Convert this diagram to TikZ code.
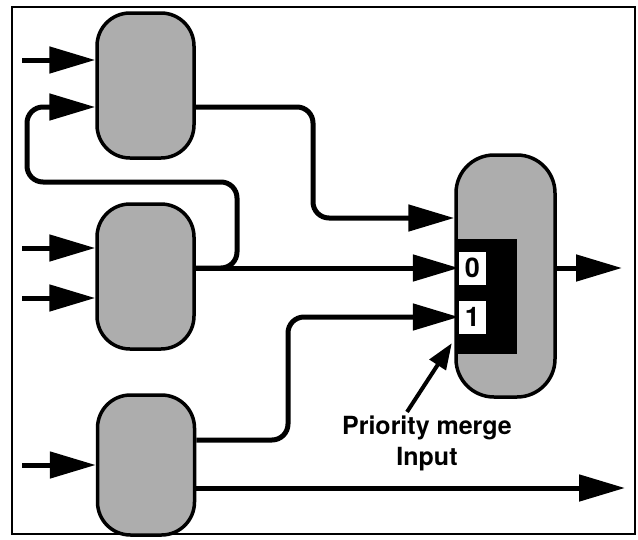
\documentclass[tikz,border=0pt]{standalone}
\usepackage{fontspec}
\setmainfont{TeX Gyre Heros}
\usepackage{tikz}
\usetikzlibrary{arrows.meta,positioning,calc}
\tikzset{
  procbox/.style={draw=black,line width=3.5pt,fill=black!32,rounded corners=33pt,
    minimum width=97pt,minimum height=145pt,inner sep=0pt},
  mergebox/.style={draw=black,line width=3.5pt,fill=black!32,rounded corners=38pt,
    minimum width=99pt,minimum height=242pt,inner sep=0pt},
  prioblock/.style={fill=black,minimum width=60pt,minimum height=115pt,inner sep=0pt},
  digitbox/.style={fill=white,minimum width=27pt,minimum height=33pt,inner sep=0pt,
    font=\fontsize{27}{27}\selectfont\bfseries},
  wire/.style={-{Triangle[length=46pt,width=26pt]},line width=5pt},
  pointer/.style={-{Triangle[length=26pt,width=19pt]},line width=4pt},
  notelabel/.style={font=\fontsize{25}{31}\selectfont\bfseries,align=center}
}
\begin{document}
\begin{tikzpicture}[x=1pt,y=-1pt]
  \useasboundingbox (0,0) rectangle (638,539);
  \draw[line width=2.5pt] (12,7) rectangle (635,534);
  % processing elements
  \node[procbox] (srca) at (145.5,85.5) {};
  \node[procbox] (srcb) at (145.5,276.5) {};
  \node[procbox,minimum height=140pt] (srcc) at (146,465) {};
  \node[mergebox] (merge) at (505.5,276) {};
  \node[prioblock] (prio) at (487,296.5) {};
  \node[digitbox] (zero) at (472.5,268) {0};
  \node[digitbox] (one) at (472.5,317) {1};
  % free ends and bends
  \coordinate (ina) at (22,60);
  \coordinate (inb1) at (22,248);
  \coordinate (inb2) at (22,298);
  \coordinate (inc) at (22,465);
  \coordinate (loopr) at (237,182);
  \coordinate (loopl) at (27,182);
  \coordinate (fbk) at (27,107);
  \coordinate (drop) at (313,218);
  \coordinate (rise) at (288,440);
  \coordinate (outzero) at (622,268);
  \coordinate (outlow) at (625,488);
  % inputs
  \draw[wire] (ina) -- (srca.west |- ina);
  \draw[wire] (inb1) -- (srcb.west |- inb1);
  \draw[wire] (inb2) -- (srcb.west |- inb2);
  \draw[wire] (inc) -- (srcc.west);
  % feedback loop and links
  \draw[wire,rounded corners=16pt] (srcb.east |- zero) -| (loopr) -- (loopl)
    -- (fbk) -- (srca.west |- fbk);
  \draw[wire] (srcb.east |- zero) -- (zero.west);
  \draw[wire,rounded corners=16pt] (srca.east |- fbk) -| (drop) -- (merge.west |- drop);
  \draw[wire,rounded corners=16pt] (srcc.east |- rise) -- (rise) |- (one.west);
  \draw[wire] (srcc.east |- outlow) -- (outlow);
  \draw[wire] (merge.east |- zero) -- (outzero);
  % annotation
  \node[notelabel] (lbl) at (427,443) {Priority merge\\Input};
  \draw[pointer] ([xshift=-20pt]lbl.north) -- ([xshift=-5pt,yshift=11pt]prio.south west);
\end{tikzpicture}
\end{document}
